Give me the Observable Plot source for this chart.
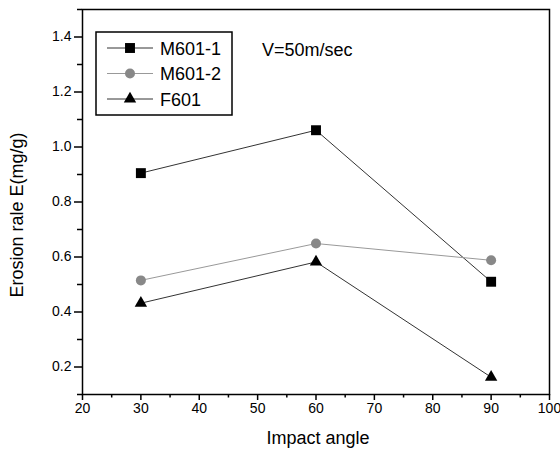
<!DOCTYPE html>
<html><head><meta charset="utf-8">
<script src="https://cdn.jsdelivr.net/npm/d3@7"></script>
<script src="https://cdn.jsdelivr.net/npm/@observablehq/plot@0.6"></script>
<style>body{margin:0;background:#fff}</style>
</head><body><div id="chart"></div>
<script>
const angles = [30, 60, 90];
const m6011 = [0.905, 1.061, 0.510];
const m6012 = [0.515, 0.649, 0.588];
const f601 = [0.432, 0.582, 0.163];
const seriesNames = ["M601-1", "M601-2", "F601"];
const xTicks = [20, 30, 40, 50, 60, 70, 80, 90, 100];
const xMinor = [25, 35, 45, 55, 65, 75, 85, 95];
const yTicks = [0.2, 0.4, 0.6, 0.8, 1.0, 1.2, 1.4];
const yMinor = [0.1, 0.3, 0.5, 0.7, 0.9, 1.1, 1.3, 1.5];
const xLabel = "Impact angle";
const yLabel = "Erosion rale E(mg/g)";
const note = "V=50m/sec";

const styles = [
  {symbol: "square", fill: "#000", line: "#333", r: 5.6},
  {symbol: "circle", fill: "#888", line: "#999", r: 5},
  {symbol: "triangle", fill: "#000", line: "#333", r: 4.6}
];
const seriesValues = [m6011, m6012, f601];
const series = seriesNames.map((name, i) => angles.map((a, j) => ({name, angle: a, value: seriesValues[i][j]})));

const font = "'Liberation Sans', Arial, Helvetica, sans-serif";
const marks = [];
series.forEach((d, i) => {
  marks.push(Plot.line(d, {x: "angle", y: "value", stroke: styles[i].line, strokeWidth: 1}));
});
series.forEach((d, i) => {
  marks.push(Plot.dot(d, {x: "angle", y: "value", symbol: () => styles[i].symbol, fill: styles[i].fill, stroke: "none", r: styles[i].r}));
});

const chart = Plot.plot({
  width: 560, height: 449,
  marginLeft: 82, marginRight: 11, marginTop: 9, marginBottom: 55,
  style: {fontFamily: font, fontSize: "14px", color: "#000", background: "#fff"},
  x: {domain: [20, 100]},
  y: {domain: [0.1, 1.5]},
  symbol: {type: "identity"},
  marks: [
    Plot.axisX(xTicks, {tickSize: 6, tickPadding: 3, label: null, fontSize: 14, strokeWidth: 1.5, tickFormat: d => String(d)}),
    Plot.axisX(xMinor, {tickSize: 3.5, text: null, label: null, strokeWidth: 1.5}),
    Plot.axisY(yTicks, {tickSize: 8, tickPadding: 3, label: null, fontSize: 14, strokeWidth: 1.5, tickFormat: d => d.toFixed(1)}),
    Plot.axisY(yMinor, {tickSize: 5, text: null, label: null, strokeWidth: 1.5}),
    ...marks,
    Plot.frame({stroke: "#000", strokeWidth: 1.5})
  ]
});
document.getElementById("chart").appendChild(chart);

const svg = d3.select(chart);
// axis titles
svg.append("text").attr("x", 318).attr("y", 444).attr("text-anchor", "middle")
  .attr("font-family", font).attr("font-size", 18).attr("fill", "#000").text(xLabel);
svg.append("text").attr("transform", "translate(23,215) rotate(-90)").attr("text-anchor", "middle")
  .attr("font-family", font).attr("font-size", 18).attr("fill", "#000").text(yLabel);
// annotation
svg.append("text").attr("x", 262).attr("y", 56).attr("text-anchor", "start")
  .attr("font-family", font).attr("font-size", 18).attr("fill", "#000").text(note);
// legend
const lg = svg.append("g");
lg.append("rect").attr("x", 96).attr("y", 32).attr("width", 136).attr("height", 83)
  .attr("fill", "#fff").attr("stroke", "#000").attr("stroke-width", 1.5);
seriesNames.forEach((name, i) => {
  const y = 48 + i * 25.5;
  lg.append("line").attr("x1", 107).attr("x2", 153).attr("y1", y).attr("y2", y)
    .attr("stroke", styles[i].line).attr("stroke-width", 1);
  const sym = {square: d3.symbolSquare, circle: d3.symbolCircle, triangle: d3.symbolTriangle}[styles[i].symbol];
  lg.append("path").attr("d", d3.symbol(sym, Math.PI * styles[i].r * styles[i].r)())
    .attr("transform", `translate(130,${y})`).attr("fill", styles[i].fill);
  lg.append("text").attr("x", 160).attr("y", y + 6.5).attr("text-anchor", "start")
    .attr("font-family", font).attr("font-size", 18).attr("fill", "#000").text(name);
});
</script>
</body></html>
